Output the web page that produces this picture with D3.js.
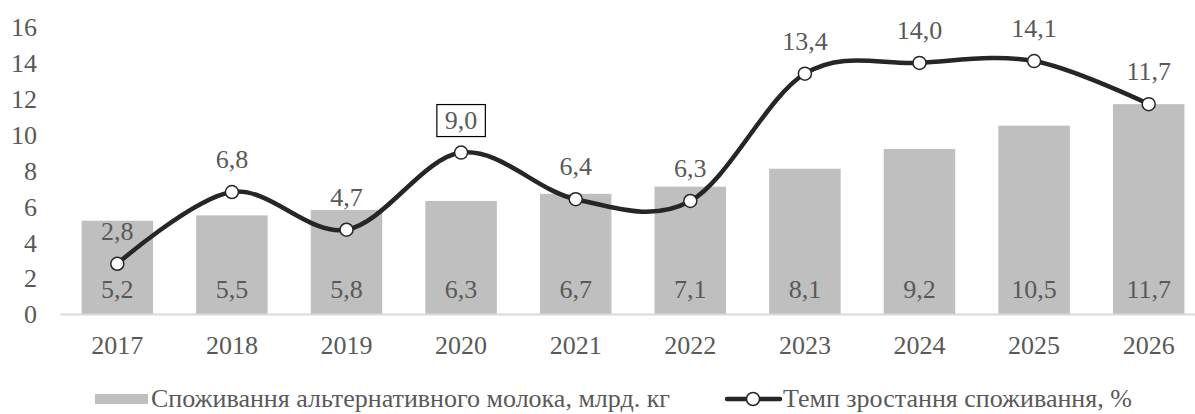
<!DOCTYPE html>
<html>
<head>
<meta charset="utf-8">
<script src="https://cdn.jsdelivr.net/npm/d3@7"></script>
<style>
  html, body { margin: 0; padding: 0; background: #fff; }
  svg { display: block; }
  svg text { font-family: "Times New Roman", "Liberation Serif", "DejaVu Serif", serif !important; fill: #595959; }
</style>
</head>
<body>
<svg id="chart" width="1195" height="414"></svg>
<script>
// Years on the category axis
const years = ["2017", "2018", "2019", "2020", "2021", "2022", "2023", "2024", "2025", "2026"];
// Consumption of alternative milk, bln kg (bars)
const consumption = [5.2, 5.5, 5.8, 6.3, 6.7, 7.1, 8.1, 9.2, 10.5, 11.7];
// Consumption growth rate, % (line)
const growthRate = [2.8, 6.8, 4.7, 9.0, 6.4, 6.3, 13.4, 14.0, 14.1, 11.7];
// Value-axis ticks
const yTicks = [0, 2, 4, 6, 8, 10, 12, 14, 16];
const legendLabels = ["Споживання альтернативного молока, млрд. кг", "Темп зростання споживання, %"];
const highlightedYear = "2020";

const FS = 26;
const FONT = "'Times New Roman', 'Liberation Serif', serif";
const fmt = v => d3.format(".1f")(v).replace(".", ",");

const svg = d3.select("#chart")
  .attr("font-family", FONT);
const margin = { left: 60, right: -11 };
const W = 1195;

const x = d3.scaleBand()
  .domain(years)
  .range([margin.left, W - margin.right])
  .paddingInner(0.376)
  .paddingOuter(0.188);

const y = d3.scaleLinear()
  .domain([0, 16])
  .range([314, 27]);

// Value axis labels (no line, no tick marks)
const yAxis = svg.append("g")
  .attr("transform", `translate(40,0)`)
  .call(d3.axisLeft(y).tickValues(yTicks).tickSize(0).tickPadding(3).tickFormat(d => d))
  .attr("font-family", FONT);
yAxis.select(".domain").remove();
yAxis.selectAll("text")
  .attr("font-size", FS)
  .attr("font-family", FONT)
  .attr("dy", "0.34em")
  .attr("fill", "#595959");

// Bars
svg.append("g").selectAll("rect")
  .data(years)
  .join("rect")
  .attr("x", d => x(d))
  .attr("width", x.bandwidth())
  .attr("y", (d, i) => y(consumption[i]))
  .attr("height", (d, i) => y(0) - y(consumption[i]))
  .attr("fill", "#BFBFBF");

// Bar value labels near the base
svg.append("g").selectAll("text")
  .data(years)
  .join("text")
  .attr("x", d => x(d) + x.bandwidth() / 2)
  .attr("y", 298)
  .attr("text-anchor", "middle")
  .attr("font-size", FS)
  .attr("font-family", FONT)
  .text((d, i) => fmt(consumption[i]));

// Category axis
const xAxis = svg.append("g")
  .attr("transform", `translate(0,${y(0)})`)
  .call(d3.axisBottom(x).tickSize(0).tickPadding(0))
  .attr("font-family", FONT);
xAxis.select(".domain").attr("stroke", "#D9D9D9").attr("stroke-width", 2);
xAxis.selectAll("text")
  .attr("font-size", FS)
  .attr("font-family", FONT)
  .attr("dy", null)
  .attr("y", 40)
  .attr("fill", "#595959");

// Smoothed growth-rate line
const pts = years.map((d, i) => [x(d) + x.bandwidth() / 2, y(growthRate[i])]);
const line = d3.line().curve(d3.curveCardinal.tension(0));
svg.append("path")
  .attr("d", line(pts))
  .attr("fill", "none")
  .attr("stroke", "#262626")
  .attr("stroke-width", 4.5)
  .attr("stroke-linecap", "round");

svg.append("g").selectAll("circle")
  .data(pts)
  .join("circle")
  .attr("cx", d => d[0])
  .attr("cy", d => d[1])
  .attr("r", 6.5)
  .attr("fill", "#fff")
  .attr("stroke", "#262626")
  .attr("stroke-width", 1.5);

// Line value labels above the points
const lineLabels = svg.append("g");
years.forEach((d, i) => {
  const cx = x(d) + x.bandwidth() / 2;
  const cy = y(growthRate[i]);
  const t = lineLabels.append("text")
    .attr("x", cx)
    .attr("y", cy - 24)
    .attr("text-anchor", "middle")
    .attr("font-size", FS)
    .attr("font-family", FONT)
    .text(fmt(growthRate[i]));
  if (d === highlightedYear) {
    const bb = t.node().getBBox();
    lineLabels.insert("rect", "text")
      .attr("x", bb.x - 8)
      .attr("y", bb.y - 1)
      .attr("width", bb.width + 16)
      .attr("height", bb.height + 3)
      .attr("fill", "#fff")
      .attr("stroke", "#000")
      .attr("stroke-width", 1.2);
  }
});

// Legend
const lg = svg.append("g");
lg.append("rect")
  .attr("x", 95).attr("y", 394).attr("width", 53).attr("height", 10)
  .attr("fill", "#BFBFBF");
lg.append("text")
  .attr("x", 151).attr("y", 407)
  .attr("font-size", FS)
  .attr("font-family", FONT)
  .text(legendLabels[0]);
lg.append("line")
  .attr("x1", 727).attr("x2", 780).attr("y1", 399).attr("y2", 399)
  .attr("stroke", "#262626").attr("stroke-width", 4.5).attr("stroke-linecap", "round");
lg.append("circle")
  .attr("cx", 753).attr("cy", 399).attr("r", 6.5)
  .attr("fill", "#fff").attr("stroke", "#262626").attr("stroke-width", 1.5);
lg.append("text")
  .attr("x", 783).attr("y", 407)
  .attr("font-size", FS)
  .attr("font-family", FONT)
  .text(legendLabels[1]);
</script>
</body>
</html>
